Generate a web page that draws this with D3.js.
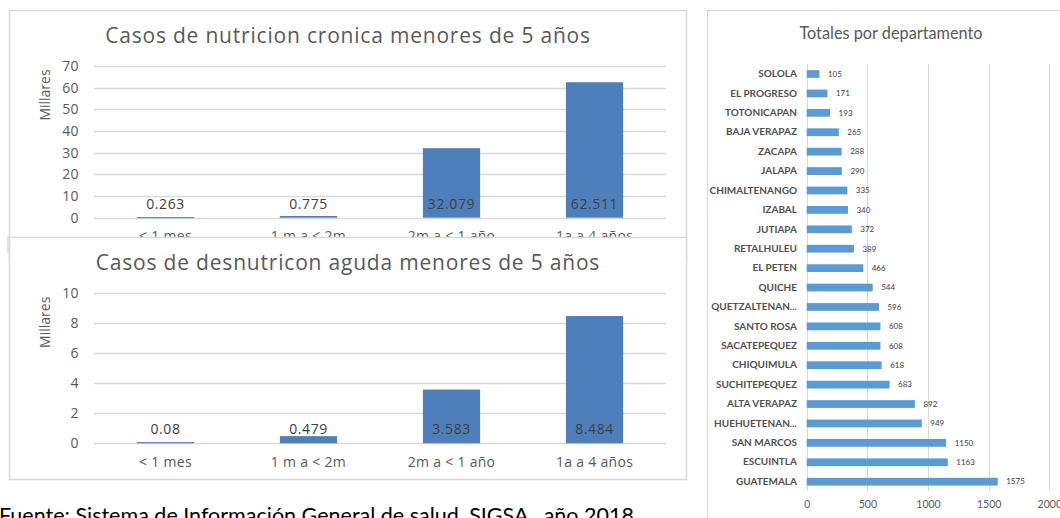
<!DOCTYPE html>
<html>
<head>
<meta charset="utf-8">
<script src="https://cdn.jsdelivr.net/npm/d3@7"></script>
<style>
  body { margin: 0; background: #fff; }
  svg { display: block; }
</style>
</head>
<body>
<div id="chart"></div>
<script>
// datos por grupo de edad (miles de casos)
var edades = ["< 1 mes", "1 m a < 2m", "2m a < 1 año", "1a a 4 años"];
var cronica = [0.263, 0.775, 32.079, 62.511];
var aguda = [0.08, 0.479, 3.583, 8.484];
var ticksCronica = [0, 10, 20, 30, 40, 50, 60, 70];
var ticksAguda = [0, 2, 4, 6, 8, 10];

// totales por departamento
var deptos = ["SOLOLA", "EL PROGRESO", "TOTONICAPAN", "BAJA VERAPAZ", "ZACAPA", "JALAPA",
  "CHIMALTENANGO", "IZABAL", "JUTIAPA", "RETALHULEU", "EL PETEN", "QUICHE", "QUETZALTENAN...",
  "SANTO ROSA", "SACATEPEQUEZ", "CHIQUIMULA", "SUCHITEPEQUEZ", "ALTA VERAPAZ", "HUEHUETENAN...",
  "SAN MARCOS", "ESCUINTLA", "GUATEMALA"];
var totales = [105, 171, 193, 265, 288, 290, 335, 340, 372, 389, 466, 544, 596, 608, 608, 618,
  683, 892, 949, 1150, 1163, 1575];
var ticksDepto = [0, 500, 1000, 1500, 2000];

var svg = d3.select("#chart").append("svg").attr("width", 1060).attr("height", 518)

var fontL = "'Open Sans', 'DejaVu Sans', sans-serif"
var fontR = "Lato, 'Open Sans', sans-serif"

function columnas(box, titulo, valores, ticks, yBase, yTop) {
  var g = svg.append("g")
  g.append("rect").attr("x", box[0] + 0.5).attr("y", box[1] + 0.5).attr("width", box[2]).attr("height", box[3])
    .attr("fill", "#fff").attr("stroke", "#d9d9d9").attr("stroke-width", 1.5)

  var x = d3.scaleBand().domain(edades).range([94, 666]).paddingInner(0.6).paddingOuter(0.3)
  var y = d3.scaleLinear().domain([0, d3.max(ticks)]).range([yBase, yTop])

  g.append("text").attr("x", 348).attr("y", box[1] + 33).attr("text-anchor", "middle")
    .attr("font-family", fontL).attr("font-size", 21).attr("letter-spacing", 0.8)
    .attr("fill", "#595959").text(titulo)

  g.selectAll(".grid").data(ticks).enter().append("line")
    .attr("x1", 94).attr("x2", 666)
    .attr("y1", function(d) { return Math.round(y(d)) + 0.5 }).attr("y2", function(d) { return Math.round(y(d)) + 0.5 })
    .attr("stroke", "#d9d9d9").attr("stroke-width", 1.3)

  var ejeY = g.append("g").attr("transform", "translate(79,0)")
    .call(d3.axisLeft(y).tickValues(ticks).tickSize(0).tickPadding(0))
  ejeY.select(".domain").remove()
  ejeY.selectAll("text").attr("font-family", fontL).attr("font-size", 14).attr("letter-spacing", 0.4).attr("fill", "#595959")

  g.append("text").attr("transform", "translate(50," + (yTop + 29) + ") rotate(-90)")
    .attr("text-anchor", "middle").attr("font-family", fontL).attr("font-size", 14)
    .attr("fill", "#595959").text("Millares")

  g.selectAll(".bar").data(valores).enter().append("rect")
    .attr("x", function(d, i) { return x(edades[i]) })
    .attr("width", x.bandwidth())
    .attr("y", function(d) { return y(d) })
    .attr("height", function(d) { return Math.max(1, yBase - y(d)) })
    .attr("fill", "#4f7fbb")

  g.selectAll(".val").data(valores).enter().append("text")
    .attr("x", function(d, i) { return x(edades[i]) + x.bandwidth() / 2 })
    .attr("y", yBase - 14).attr("dy", "0.35em").attr("text-anchor", "middle")
    .attr("font-family", fontL).attr("font-size", 14).attr("letter-spacing", 0.6).attr("fill", "#404040")
    .text(function(d) { return d })

  g.selectAll(".cat").data(edades).enter().append("text")
    .attr("x", function(d) { return x(d) + x.bandwidth() / 2 })
    .attr("y", yBase + 18.5).attr("dy", "0.35em").attr("text-anchor", "middle")
    .attr("font-family", fontL).attr("font-size", 14).attr("letter-spacing", 0.3).attr("fill", "#595959")
    .text(function(d) { return d })
}

columnas([9, 10, 677, 250], "Casos de nutricion cronica menores de 5 años", cronica, ticksCronica, 217.7, 66)
svg.append("line").attr("x1", 8).attr("x2", 8).attr("y1", 236).attr("y2", 253).attr("stroke", "#d9d9d9").attr("stroke-width", 1.5)
columnas([9, 237, 677, 242], "Casos de desnutricon aguda menores de 5 años", aguda, ticksAguda, 443.3, 293.3)

svg.append("text").attr("x", -1).attr("y", 523).attr("font-family", fontR).attr("font-size", 21.5)
  .attr("fill", "#000").text("Fuente: Sistema de Información General de salud, SIGSA , año 2018")

// grafica de departamentos
var gd = svg.append("g")
gd.append("rect").attr("x", 707.5).attr("y", 10.5).attr("width", 400).attr("height", 600)
  .attr("fill", "#fff").attr("stroke", "#d9d9d9").attr("stroke-width", 1.3)

gd.append("text").attr("x", 891).attr("y", 39).attr("text-anchor", "middle")
  .attr("font-family", fontR).attr("font-size", 16.3).attr("fill", "#595959").text("Totales por departamento")

var xd = d3.scaleLinear().domain([0, 2000]).range([806.7, 1049.3])
var yd = d3.scaleBand().domain(deptos).range([64.3, 491.4]).paddingInner(0.6).paddingOuter(0.3)

gd.selectAll(".gridd").data(ticksDepto).enter().append("line")
  .attr("x1", function(d) { return Math.round(xd(d)) + 0.5 }).attr("x2", function(d) { return Math.round(xd(d)) + 0.5 })
  .attr("y1", 64).attr("y2", 491).attr("stroke", "#d9d9d9").attr("stroke-width", 1)

var ejeX = gd.append("g").attr("transform", "translate(0,501)")
  .call(d3.axisBottom(xd).tickValues(ticksDepto).tickFormat(d3.format("d")).tickSize(0).tickPadding(0))
ejeX.select(".domain").remove()
ejeX.selectAll("text").attr("font-family", fontR).attr("font-size", 10.5).attr("fill", "#595959")

gd.selectAll(".bard").data(totales).enter().append("rect")
  .attr("x", xd(0)).attr("y", function(d, i) { return yd(deptos[i]) })
  .attr("width", function(d) { return xd(d) - xd(0) }).attr("height", yd.bandwidth())
  .attr("fill", "#5b9bd5")

gd.selectAll(".vald").data(totales).enter().append("text")
  .attr("x", function(d) { return xd(d) + 8.5 })
  .attr("y", function(d, i) { return yd(deptos[i]) + yd.bandwidth() / 2 }).attr("dy", "0.35em")
  .attr("font-family", fontR).attr("font-size", 8).attr("fill", "#404040")
  .text(function(d) { return d })

var ejeD = gd.append("g").attr("transform", "translate(797,0)")
  .call(d3.axisLeft(yd).tickSize(0).tickPadding(0))
ejeD.select(".domain").remove()
ejeD.selectAll("text").attr("font-family", fontR).attr("font-size", 10).attr("font-weight", "bold").attr("fill", "#505050")
</script>
</body>
</html>
